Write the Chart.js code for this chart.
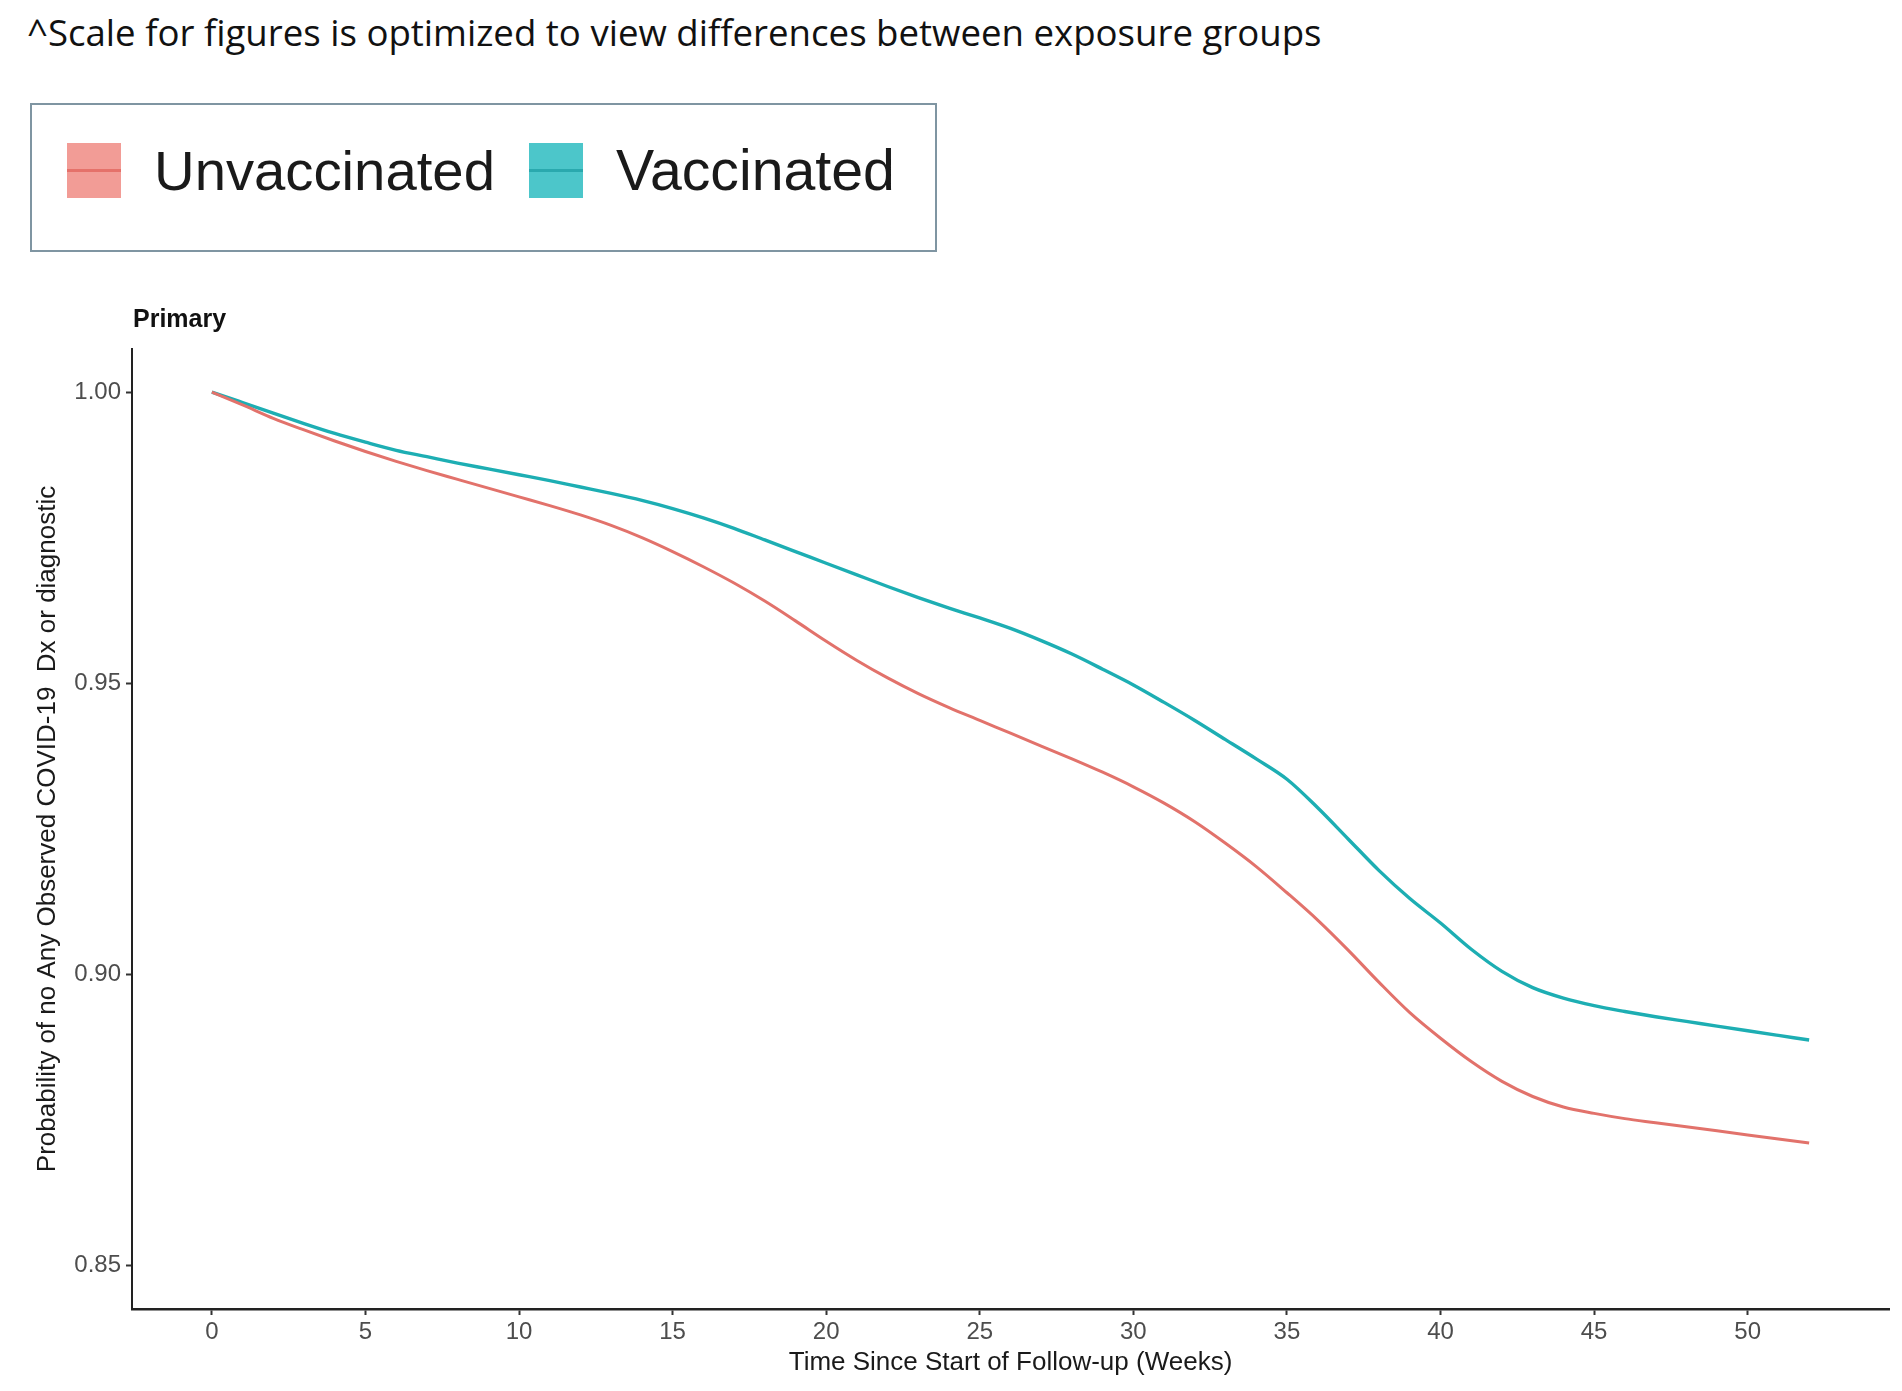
<!DOCTYPE html>
<html>
<head>
<meta charset="utf-8">
<script src="https://cdn.jsdelivr.net/npm/chart.js@4.4.1/dist/chart.umd.min.js"></script>
<style>
  html, body { margin: 0; padding: 0; background: #ffffff; }
  body { width: 1902px; height: 1391px; position: relative; overflow: hidden; }
  #note { position: absolute; left: 27px; top: 14px; font-family: "Open Sans", "Noto Sans", sans-serif; color: #111; white-space: nowrap; line-height: 1; }
  #legendBox { position: absolute; left: 30px; top: 103px; width: 903px; height: 145px; border: 2px solid #7f95a2; box-sizing: content-box; }
  .key { position: absolute; top: 38px; width: 54px; height: 55px; }
  .key .mid { position: absolute; left: 0; right: 0; top: 26px; height: 3px; }
  .lab { position: absolute; font-family: "Liberation Sans", Arial, sans-serif; color: #1a1a1a; white-space: nowrap; line-height: 1; }
  #chartWrap { position: absolute; left: 0; top: 290px; width: 1902px; height: 1101px; }
</style>
</head>
<body>
<div id="note">^Scale for figures is optimized to view differences between exposure groups</div>
<div id="legendBox">
  <div class="key" id="key0" style="left:35px"><div class="mid"></div></div>
  <div class="lab" id="lab0" style="left:122px"></div>
  <div class="key" id="key1" style="left:497px"><div class="mid"></div></div>
  <div class="lab" id="lab1" style="left:584px"></div>
</div>
<div id="chartWrap"><canvas id="c"></canvas></div>
<script>
// ---- data ----
const panelTitle = "Primary";
const seriesNames = ["Unvaccinated", "Vaccinated"];
const weeks = [0,1,2,3,4,5,6,7,8,9,10,11,12,13,14,15,16,17,18,19,20,21,22,23,24,25,26,27,28,29,30,31,32,33,34,35,36,37,38,39,40,41,42,43,44,45,46,47,48,49,50,51,52];
const unvaccinated = [1.0000,0.9978,0.9955,0.9935,0.9916,0.9898,0.9881,0.9865,0.9850,0.9835,0.9820,0.9805,0.9789,0.9771,0.9750,0.9726,0.9700,0.9672,0.9641,0.9607,0.9572,0.9539,0.9509,0.9482,0.9458,0.9436,0.9414,0.9392,0.9370,0.9347,0.9322,0.9294,0.9262,0.9225,0.9185,0.9140,0.9093,0.9041,0.8986,0.8934,0.8890,0.8850,0.8816,0.8790,0.8772,0.8761,0.8752,0.8745,0.8738,0.8731,0.8724,0.8717,0.8710];
const vaccinated = [1.0000,0.9982,0.9964,0.9946,0.9929,0.9914,0.9900,0.9889,0.9878,0.9868,0.9858,0.9848,0.9837,0.9826,0.9814,0.9800,0.9784,0.9766,0.9746,0.9726,0.9706,0.9686,0.9666,0.9647,0.9629,0.9612,0.9594,0.9573,0.9550,0.9524,0.9497,0.9467,0.9436,0.9403,0.9370,0.9335,0.9286,0.9232,0.9178,0.9130,0.9088,0.9043,0.9005,0.8977,0.8959,0.8946,0.8936,0.8927,0.8919,0.8911,0.8903,0.8895,0.8887];
const xTicks = [0,5,10,15,20,25,30,35,40,45,50];
const yTicks = [0.85,0.90,0.95,1.00];
const xTitle = "Time Since Start of Follow-up (Weeks)";
const yTitle = "Probability of no Any Observed COVID-19  Dx or diagnostic";

const lineColors = ["#E2726B", "#1DAEB3"];
const keyFill = ["#F29C96", "#4CC6CA"];
const keyMid = ["#E5716A", "#2AA9AE"];

// ---- fit helper text ----
const mctx = document.createElement('canvas').getContext('2d');
function fitSize(text, family, weight, targetW) {
  mctx.font = weight + " 100px " + family;
  return 100 * targetW / mctx.measureText(text).width;
}
const note = document.getElementById('note');
note.style.fontSize = fitSize(note.textContent, '"Open Sans"', 'normal', 1295) + 'px';
for (let i = 0; i < 2; i++) {
  const lab = document.getElementById('lab' + i);
  lab.textContent = seriesNames[i];
  const target = i === 0 ? 341 : 279;
  const fs = fitSize(seriesNames[i], '"Liberation Sans"', 'normal', target);
  lab.style.fontSize = fs + 'px';
  lab.style.top = (66 - fs * 0.5) + 'px';
  const key = document.getElementById('key' + i);
  key.style.background = keyFill[i];
  key.querySelector('.mid').style.background = keyMid[i];
}

// ---- chart ----
const FONT = '"Liberation Sans", Arial, sans-serif';
const panelTitlePlugin = {
  id: 'panelTitle',
  afterDraw(chart) {
    const ctx = chart.ctx, a = chart.chartArea;
    ctx.save();
    ctx.font = 'bold 25px ' + FONT;
    ctx.fillStyle = '#111';
    ctx.textAlign = 'left';
    ctx.textBaseline = 'middle';
    ctx.fillText(panelTitle, a.left + 1, a.top - 29);
    ctx.restore();
  }
};

new Chart(document.getElementById('c'), {
  type: 'line',
  data: {
    datasets: [
      { label: seriesNames[0], data: weeks.map((w, i) => ({x: w, y: unvaccinated[i]})), borderColor: lineColors[0], borderWidth: 3, pointRadius: 0, cubicInterpolationMode: 'monotone', fill: false },
      { label: seriesNames[1], data: weeks.map((w, i) => ({x: w, y: vaccinated[i]})), borderColor: lineColors[1], borderWidth: 3.4, pointRadius: 0, cubicInterpolationMode: 'monotone', fill: false }
    ]
  },
  options: {
    responsive: true,
    maintainAspectRatio: false,
    animation: false,
    devicePixelRatio: 1,
    layout: { padding: { top: 59, right: 13, bottom: 0, left: 0 } },
    plugins: { legend: { display: false }, tooltip: { enabled: false }, title: { display: false } },
    scales: {
      x: {
        type: 'linear', min: -2.6, max: 54.6,
        afterBuildTicks: s => { s.ticks = xTicks.map(v => ({value: v})); },
        afterFit: s => { s.height = 82; },
        grid: { display: true, drawOnChartArea: false, drawTicks: true, tickLength: 6, tickColor: '#333', tickWidth: 2 },
        border: { display: true, color: '#222', width: 2.5 },
        ticks: { color: '#4D4D4D', padding: 3, font: { family: FONT, size: 24 }, maxRotation: 0, autoSkip: false, callback: v => String(v) },
        title: { display: true, text: xTitle, color: '#1a1a1a', font: { family: FONT, size: 26 }, padding: { top: 0, bottom: 13 } }
      },
      y: {
        type: 'linear', min: 0.8425, max: 1.0074,
        afterBuildTicks: s => { s.ticks = yTicks.map(v => ({value: v})); },
        afterFit: s => { s.width = 132; },
        grid: { display: true, drawOnChartArea: false, drawTicks: true, tickLength: 6, tickColor: '#333', tickWidth: 2 },
        border: { display: true, color: '#222', width: 2 },
        ticks: { color: '#4D4D4D', padding: 5, font: { family: FONT, size: 24 }, autoSkip: false, callback: v => Number(v).toFixed(2) },
        title: { display: true, text: yTitle, color: '#1a1a1a', font: { family: FONT, size: 26 }, padding: { top: 32, bottom: 0 } }
      }
    }
  },
  plugins: [panelTitlePlugin]
});
</script>
</body>
</html>
